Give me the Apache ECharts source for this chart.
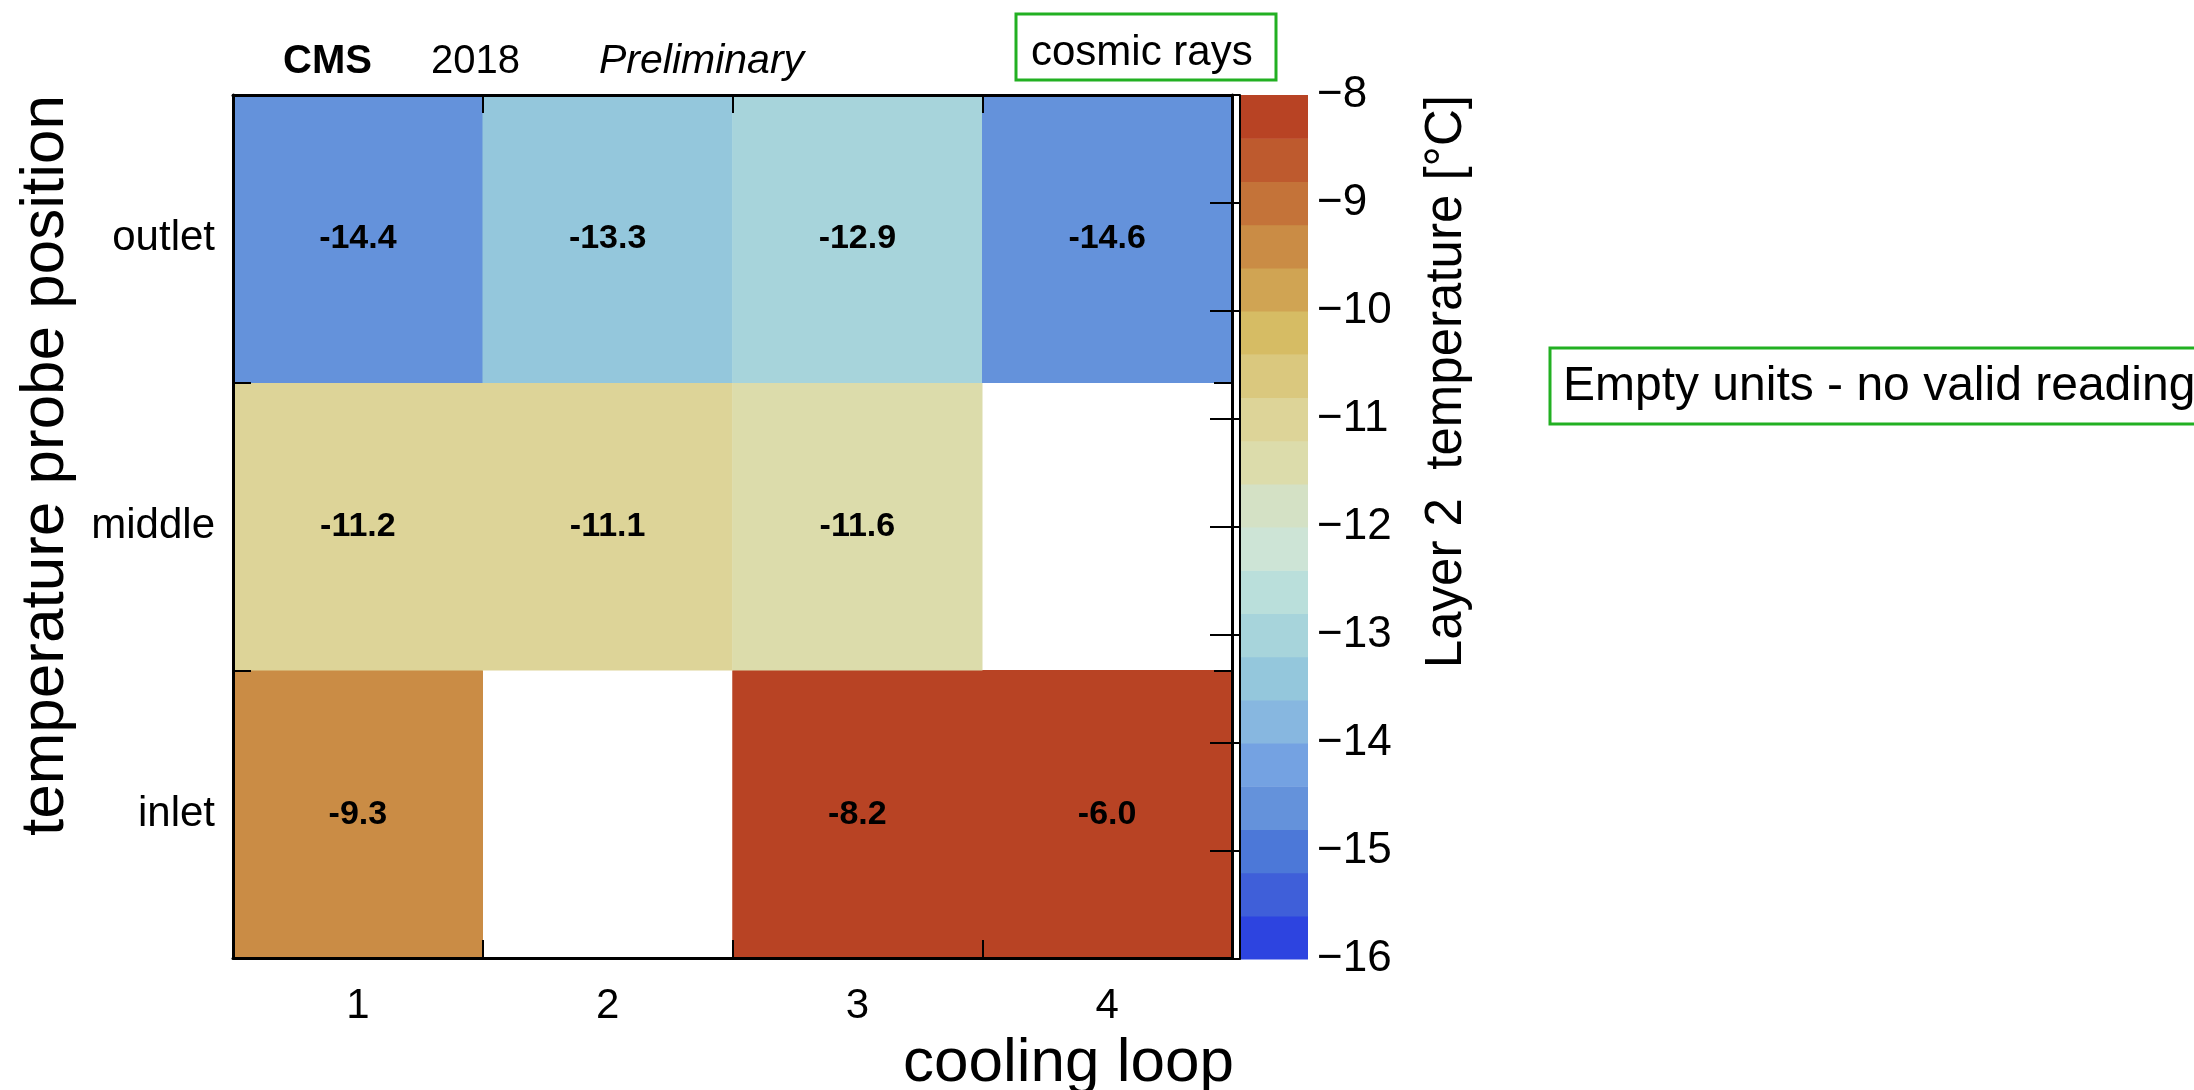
<!DOCTYPE html>
<html>
<head>
<meta charset="utf-8">
<script src="https://cdn.jsdelivr.net/npm/echarts@6/dist/echarts.min.js"></script>
<style>
  html, body { margin: 0; padding: 0; background: #ffffff; }
  #chart { width: 2194px; height: 1090px; }
</style>
</head>
<body>
<div id="chart"></div>
<script>
// Cooling loops (columns) and probe positions (rows, bottom to top)
const LOOPS = ['1', '2', '3', '4'];
const POSITIONS = ['inlet', 'middle', 'outlet'];

// Layer 2 temperatures in °C per loop; null = no valid reading
const INLET  = [-9.3, null, -8.2, -6.0];
const MIDDLE = [-11.2, -11.1, -11.6, null];
const OUTLET = [-14.4, -13.3, -12.9, -14.6];

// Colour scale: range, step and the palette from coldest to warmest
const Z_MIN = -16;
const Z_MAX = -8;
const Z_STEP = 0.4;
const Z_TICKS = [-16, -15, -14, -13, -12, -11, -10, -9, -8];
const BAND_COLORS = [
  '#2d44e0', '#3f5fd9', '#4c78d8', '#6492db', '#74a2e2',
  '#87b7e0', '#94c7dc', '#a7d4db', '#badfdb', '#cde4d6',
  '#d4e1c5', '#dcdcab', '#ddd498', '#dac87e', '#d6bc64',
  '#d0a453', '#ca8c45', '#c47339', '#be5a2e', '#b84324'
];

const FONT = '"Liberation Sans", Arial, Helvetica, sans-serif';
const GREEN = '#22b022';

// Band of the colour scale a temperature falls in (lower edge inclusive,
// values outside the range take the end colours)
const bandOf = (v) => Math.max(0, Math.min(BAND_COLORS.length - 1, Math.floor((v - Z_MIN) / Z_STEP)));

// Heatmap cells [loopIndex, positionIndex, value, band]
const rows = [INLET, MIDDLE, OUTLET];
const cells = [];
rows.forEach((row, yi) => {
  row.forEach((v, xi) => {
    if (v !== null) cells.push([xi, yi, v, bandOf(v)]);
  });
});

// Colour bands of the scale: [lower edge, upper edge, palette index]
const bands = BAND_COLORS.map((c, i) => [Z_MIN + i * Z_STEP, Z_MIN + (i + 1) * Z_STEP, i]);

const minus = (s) => String(s).replace('-', '\u2212');

const frameAxis = {
  axisLine: { show: true, lineStyle: { color: '#000', width: 3 } },
  axisTick: { show: true, inside: true, length: 18, lineStyle: { color: '#000', width: 2 } },
  splitLine: { show: false },
  z: 10
};

const chart = echarts.init(document.getElementById('chart'), null, { renderer: 'canvas' });

chart.setOption({
  backgroundColor: '#ffffff',
  animation: false,
  textStyle: { fontFamily: FONT },
  grid: [
    { left: 233, top: 95, width: 999, height: 863 },
    { left: 1240, top: 95, width: 68, height: 864 }
  ],
  xAxis: [
    Object.assign({}, frameAxis, {
      type: 'category', gridIndex: 0, data: LOOPS, position: 'bottom',
      axisTick: Object.assign({}, frameAxis.axisTick, { alignWithLabel: false }),
      axisLabel: { color: '#000', fontSize: 42, fontFamily: FONT, margin: 27 }
    }),
    Object.assign({}, frameAxis, {
      type: 'category', gridIndex: 0, data: LOOPS, position: 'top',
      axisLabel: { show: false }
    }),
    {
      type: 'value', gridIndex: 1, min: 0, max: 1, show: false
    }
  ],
  yAxis: [
    Object.assign({}, frameAxis, {
      type: 'category', gridIndex: 0, data: POSITIONS, position: 'left',
      axisLabel: { color: '#000', fontSize: 42, fontFamily: FONT, margin: 18 }
    }),
    Object.assign({}, frameAxis, {
      type: 'category', gridIndex: 0, data: POSITIONS, position: 'right',
      axisLabel: { show: false }
    }),
    {
      type: 'value', gridIndex: 1, position: 'right',
      min: Z_MIN, max: Z_MAX, interval: 1,
      axisLine: { show: true, lineStyle: { color: '#000', width: 2 } },
      axisTick: { show: true, inside: true, length: 30, lineStyle: { color: '#000', width: 2 } },
      axisLabel: {
        color: '#000', fontSize: 44, fontFamily: FONT, margin: 9,
        formatter: (v) => Z_TICKS.indexOf(v) >= 0 ? minus(v) : ''
      },
      splitLine: { show: false },
      z: 10
    }
  ],
  visualMap: {
    type: 'piecewise', show: false, seriesIndex: 0, dimension: 3,
    pieces: BAND_COLORS.map((c, i) => ({ value: i, color: c }))
  },
  series: [
    {
      type: 'heatmap', xAxisIndex: 0, yAxisIndex: 0,
      data: cells,
      itemStyle: { borderWidth: 0 },
      label: {
        show: true, color: '#000', fontSize: 34, fontWeight: 'bold', fontFamily: FONT,
        formatter: (p) => p.value[2].toFixed(1)
      },
      emphasis: { disabled: true }
    },
    {
      type: 'custom', xAxisIndex: 2, yAxisIndex: 2,
      data: bands,
      encode: { y: [0, 1] },
      renderItem: (params, api) => {
        const top = api.coord([0, api.value(1)]);
        const bottom = api.coord([1, api.value(0)]);
        return {
          type: 'rect',
          shape: { x: top[0], y: top[1], width: bottom[0] - top[0], height: bottom[1] - top[1] + 0.6 },
          style: { fill: BAND_COLORS[api.value(2)] }
        };
      },
      silent: true
    }
  ],
  graphic: [
    { type: 'text', x: 283, y: 62, style: { text: 'CMS', font: 'bold 40px ' + FONT, fill: '#000', verticalAlign: 'middle' } },
    { type: 'text', x: 431, y: 62, style: { text: '2018', font: '40px ' + FONT, fill: '#000', verticalAlign: 'middle' } },
    { type: 'text', x: 599, y: 62, style: { text: 'Preliminary', font: 'italic 41px ' + FONT, fill: '#000', verticalAlign: 'middle' } },
    { type: 'rect', shape: { x: 1016, y: 14, width: 260, height: 66 }, style: { fill: '#fff', stroke: GREEN, lineWidth: 3 } },
    { type: 'text', x: 1031, y: 53, style: { text: 'cosmic rays', font: '42px ' + FONT, fill: '#000', verticalAlign: 'middle' } },
    { type: 'rect', shape: { x: 1550, y: 348, width: 700, height: 76 }, style: { fill: '#fff', stroke: GREEN, lineWidth: 3 } },
    { type: 'text', x: 1563, y: 387, style: { text: 'Empty units - no valid reading', font: '48px ' + FONT, fill: '#000', verticalAlign: 'middle' } },
    { type: 'text', x: 1234, y: 1064, style: { text: 'cooling loop', font: '62px ' + FONT, fill: '#000', align: 'right', verticalAlign: 'middle' } },
    { type: 'text', x: 46, y: 95, rotation: Math.PI / 2, style: { text: 'temperature probe position', font: '62px ' + FONT, fill: '#000', align: 'right', verticalAlign: 'middle' } },
    { type: 'text', x: 1447, y: 95, rotation: Math.PI / 2, style: { text: 'Layer 2  temperature [°C]', font: '51px ' + FONT, fill: '#000', align: 'right', verticalAlign: 'middle' } }
  ]
});
</script>
</body>
</html>
